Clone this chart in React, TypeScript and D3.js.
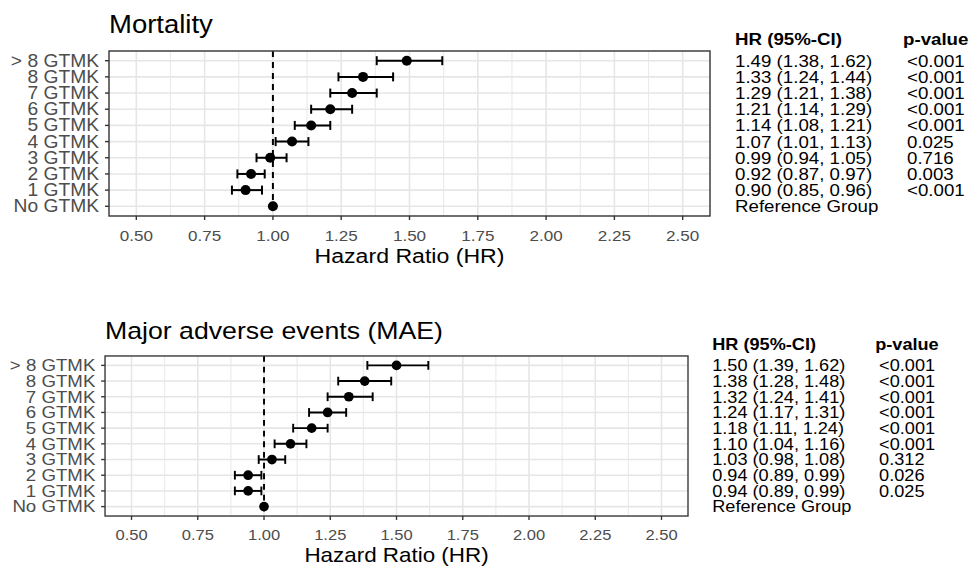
import React from 'react';
import * as d3 from 'd3';

// rows, top to bottom
const categories = ['> 8 GTMK', '8 GTMK', '7 GTMK', '6 GTMK', '5 GTMK', '4 GTMK', '3 GTMK', '2 GTMK', '1 GTMK', 'No GTMK'];

// Mortality
const mortHR = [1.49, 1.33, 1.29, 1.21, 1.14, 1.07, 0.99, 0.92, 0.90, 1.00];
const mortLo = [1.38, 1.24, 1.21, 1.14, 1.08, 1.01, 0.94, 0.87, 0.85, null];
const mortHi = [1.62, 1.44, 1.38, 1.29, 1.21, 1.13, 1.05, 0.97, 0.96, null];
const mortP = ['<0.001', '<0.001', '<0.001', '<0.001', '<0.001', '0.025', '0.716', '0.003', '<0.001', ''];

// Major adverse events
const maeHR = [1.50, 1.38, 1.32, 1.24, 1.18, 1.10, 1.03, 0.94, 0.94, 1.00];
const maeLo = [1.39, 1.28, 1.24, 1.17, 1.11, 1.04, 0.98, 0.89, 0.89, null];
const maeHi = [1.62, 1.48, 1.41, 1.31, 1.24, 1.16, 1.08, 0.99, 0.99, null];
const maeP = ['<0.001', '<0.001', '<0.001', '<0.001', '<0.001', '<0.001', '0.312', '0.026', '0.025', ''];

const xTicks = [0.5, 0.75, 1.0, 1.25, 1.5, 1.75, 2.0, 2.25, 2.5];
const xMinor = [0.625, 0.875, 1.125, 1.375, 1.625, 1.875, 2.125, 2.375];

const FONT = 'Liberation Sans, Arial, Helvetica, sans-serif';
const fmt = d3.format('.2f');

// text slightly stretched horizontally, like the original export
const T = ({ x, y, anchor = 'start', size, weight = 'normal', fill = '#000', children }: any) => (
  <text
    transform={`translate(${x},${y}) scale(1.1,1)`}
    textAnchor={anchor}
    fontSize={size}
    fontWeight={weight}
    fill={fill}
    fontFamily={FONT}
  >
    {children}
  </text>
);

const Panel = ({ title, hr, lo, hi, p }: any) => {
  const x = d3.scaleLinear().domain([0.4, 2.6]).range([109, 710]);
  const y = d3.scalePoint().domain(categories).range([51, 216]).padding(0.6);
  const [x0, x1] = x.range();
  const [y0, y1] = y.range();
  const cap = 4.5;

  return (
    <g>
      <T x={x0} y={33} size={25}>{title}</T>

      {/* panel background + grid */}
      <rect x={x0} y={y0} width={x1 - x0} height={y1 - y0} fill="#fff" />
      {xMinor.map(v => (
        <line key={'mi' + v} x1={x(v)} x2={x(v)} y1={y0} y2={y1} stroke="#ebebeb" strokeWidth={1.2} />
      ))}
      {xTicks.map(v => (
        <line key={'ma' + v} x1={x(v)} x2={x(v)} y1={y0} y2={y1} stroke="#e6e6e6" strokeWidth={1.6} />
      ))}
      {categories.map(c => (
        <line key={'h' + c} x1={x0} x2={x1} y1={y(c)} y2={y(c)} stroke="#e6e6e6" strokeWidth={1.6} />
      ))}

      {/* reference line */}
      <line x1={x(1)} x2={x(1)} y1={y0} y2={y1} stroke="#000" strokeWidth={2} strokeDasharray="6,5" />

      {/* error bars */}
      {categories.map((c, i) =>
        lo[i] == null ? null : (
          <g key={'e' + c} stroke="#000" strokeWidth={2}>
            <line x1={x(lo[i])} x2={x(hi[i])} y1={y(c)} y2={y(c)} />
            <line x1={x(lo[i])} x2={x(lo[i])} y1={y(c)! - cap} y2={y(c)! + cap} />
            <line x1={x(hi[i])} x2={x(hi[i])} y1={y(c)! - cap} y2={y(c)! + cap} />
          </g>
        )
      )}
      {categories.map((c, i) => (
        <circle key={'p' + c} cx={x(hr[i])} cy={y(c)} r={5} fill="#000" />
      ))}

      <rect x={x0} y={y0} width={x1 - x0} height={y1 - y0} fill="none" stroke="#333" strokeWidth={1.4} />

      {/* y axis */}
      {categories.map(c => (
        <g key={'y' + c}>
          <line x1={x0 - 4} x2={x0} y1={y(c)} y2={y(c)} stroke="#333" strokeWidth={1.4} />
          <T x={x0 - 10} y={y(c)! + 6} anchor="end" size={17.5} fill="#4d4d4d">{c}</T>
        </g>
      ))}

      {/* x axis */}
      {xTicks.map(v => (
        <g key={'x' + v}>
          <line x1={x(v)} x2={x(v)} y1={y1} y2={y1 + 4} stroke="#333" strokeWidth={1.4} />
          <T x={x(v)} y={241} anchor="middle" size={15.5} fill="#4d4d4d">{fmt(v)}</T>
        </g>
      ))}
      <T x={(x0 + x1) / 2} y={263} anchor="middle" size={21}>Hazard Ratio (HR)</T>

      {/* table */}
      <T x={735} y={45} size={17} weight="bold">HR (95%-CI)</T>
      <T x={903} y={45} size={17} weight="bold">p-value</T>
      {categories.map((c, i) => (
        <g key={'t' + c}>
          <T x={735} y={y(c)! + 6} size={17}>
            {lo[i] == null ? 'Reference Group' : `${fmt(hr[i])} (${fmt(lo[i])}, ${fmt(hi[i])})`}
          </T>
          <T x={907} y={y(c)! + 6} size={17}>{p[i]}</T>
        </g>
      ))}
    </g>
  );
};

export default function App() {
  return (
    <svg width={969} height={569} style={{ position: 'absolute', left: 0, top: 0, background: '#fff' }}>
      <rect width={969} height={569} fill="#fff" />
      <Panel title="Mortality" hr={mortHR} lo={mortLo} hi={mortHi} p={mortP} />
      <g transform="translate(-0.7,306.5) scale(0.97)">
        <Panel title="Major adverse events (MAE)" hr={maeHR} lo={maeLo} hi={maeHi} p={maeP} />
      </g>
    </svg>
  );
}
